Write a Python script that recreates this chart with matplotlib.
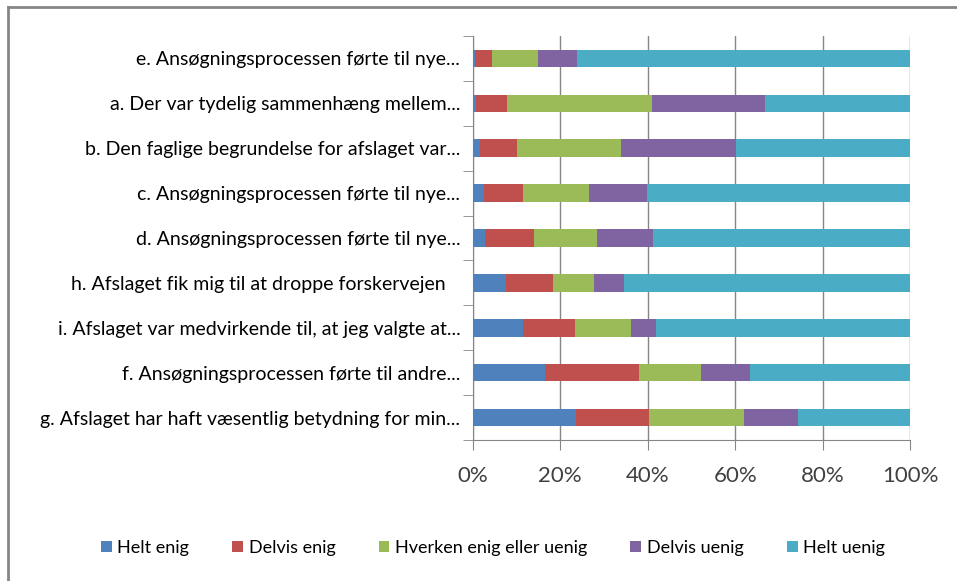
import numpy as np
import matplotlib.pyplot as plt
from matplotlib.lines import Line2D

plt.rcParams['font.family'] = ['Lato', 'DejaVu Sans']

labels = [
    "e. Ansøgningsprocessen førte til nye...",
    "a. Der var tydelig sammenhæng mellem...",
    "b. Den faglige begrundelse for afslaget var...",
    "c. Ansøgningsprocessen førte til nye...",
    "d. Ansøgningsprocessen førte til nye...",
    "h. Afslaget fik mig til at droppe forskervejen   ",
    "i. Afslaget var medvirkende til, at jeg valgte at...",
    "f. Ansøgningsprocessen førte til andre...",
    "g. Afslaget har haft væsentlig betydning for min...",
]
series = ["Helt enig", "Delvis enig", "Hverken enig eller uenig", "Delvis uenig", "Helt uenig"]

helt_enig = [0.5, 0.8, 1.7, 2.5, 2.9, 7.5, 11.6, 16.6, 23.6]
delvis_enig = [3.8, 7.1, 8.5, 8.9, 11.0, 10.9, 11.8, 21.4, 16.7]
hverken = [10.6, 33.1, 23.7, 15.2, 14.5, 9.3, 12.8, 14.1, 21.7]
delvis_uenig = [9.0, 25.8, 26.2, 13.2, 12.8, 6.8, 5.6, 11.4, 12.4]
helt_uenig = [76.1, 33.2, 39.9, 60.2, 58.8, 65.5, 58.2, 36.5, 25.6]

colors = ["#4F81BD", "#C0504D", "#9BBB59", "#8064A2", "#4BACC6"]

fig = plt.figure(figsize=(9.57, 5.81), dpi=100)
ax = fig.add_axes([0.494, 0.2427, 0.457, 0.6953])

y = np.arange(len(labels))[::-1]
left = np.zeros(len(labels))
for vals, name, c in zip([helt_enig, delvis_enig, hverken, delvis_uenig, helt_uenig], series, colors):
    vals = np.array(vals)
    ax.barh(y, vals, left=left, height=0.39, color=c, label=name, zorder=3)
    left += vals

ax.set_xlim(0, 100)
ax.set_ylim(-0.5, len(labels) - 0.5)
ax.set_xticks([0, 20, 40, 60, 80, 100])
ax.set_xticklabels(["0%", "20%", "40%", "60%", "80%", "100%"], fontsize=16, color="#404040")
ax.tick_params(axis="x", direction="out", length=7, color="#868686", pad=12)
ax.set_yticks(y)
ax.set_yticklabels(labels, fontsize=14)
ax.tick_params(axis="y", which="major", length=0, pad=9)
ax.set_yticks(np.arange(-0.5, len(labels), 1), minor=True)
ax.tick_params(axis="y", which="minor", length=7, color="#868686")
ax.grid(axis="x", color="#868686", linewidth=1, zorder=0)
for s in ["top", "right"]:
    ax.spines[s].set_visible(False)
for s in ["left", "bottom"]:
    ax.spines[s].set_color("#868686")

fig.legend(loc="center", bbox_to_anchor=(0.515, 0.057), ncol=5, frameon=False,
           fontsize=13, handlelength=0.6, handleheight=0.6, handletextpad=0.3, columnspacing=2.4)

# chart frame
fig.add_artist(Line2D([8 / 957, 1], [1 - 6.5 / 581, 1 - 6.5 / 581], color="#868686", lw=2))
fig.add_artist(Line2D([8 / 957, 8 / 957], [0, 1 - 6.5 / 581], color="#868686", lw=2))

fig.savefig("out.png", dpi=100)
